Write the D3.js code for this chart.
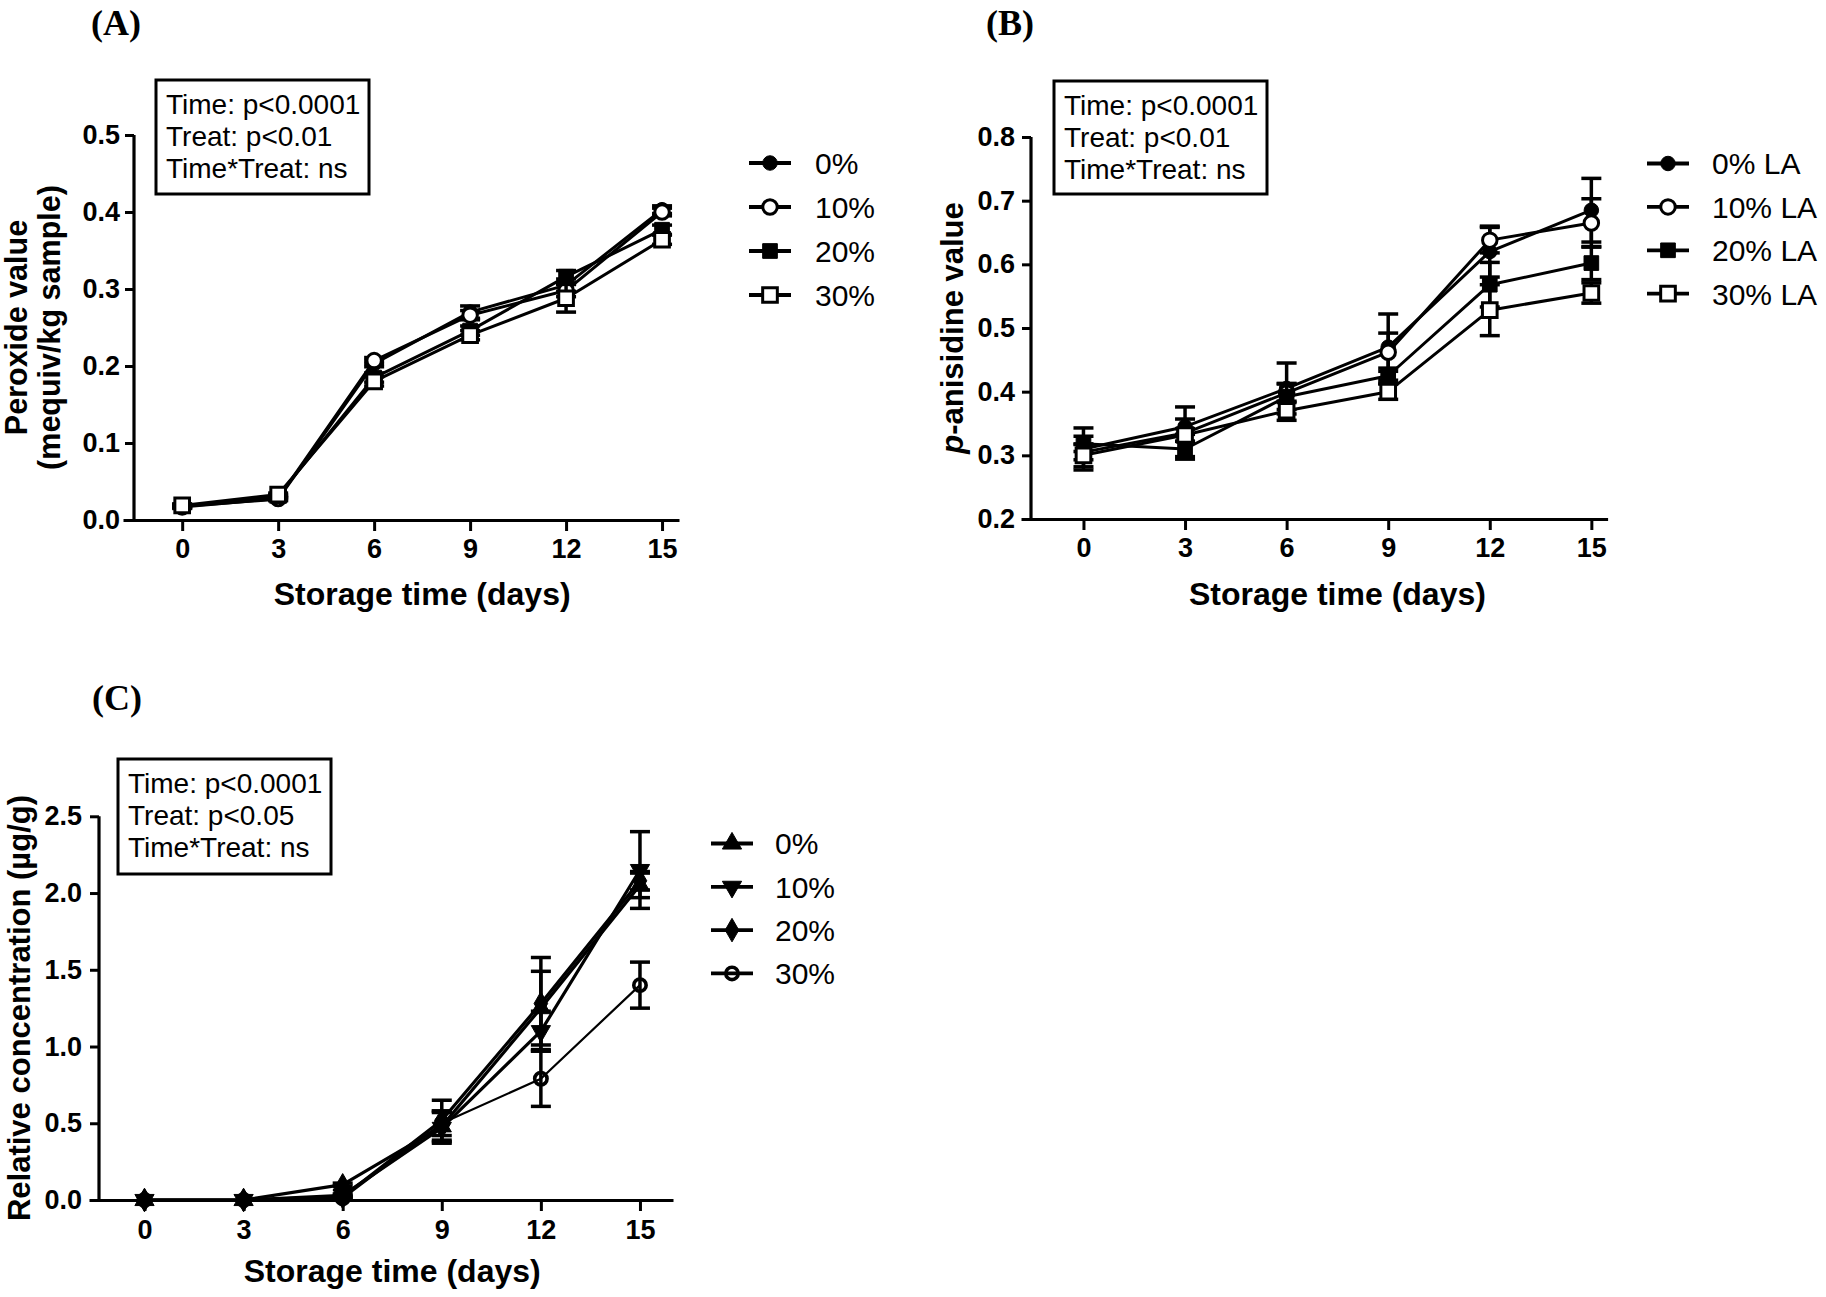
<!DOCTYPE html>
<html><head><meta charset="utf-8">
<script src="https://cdn.jsdelivr.net/npm/d3@7"></script>
<style>
html,body{margin:0;padding:0;background:#fff;}
svg{display:block;}
text{font-family:"Liberation Sans",Arial,sans-serif;fill:#000;}
text.tag{font-family:"Liberation Serif","Times New Roman",serif;}
</style></head>
<body>
<svg id="chart" width="1826" height="1297"></svg>
<script>
// ---------- DATA ----------
const days = [0, 3, 6, 9, 12, 15];

// (A) Peroxide value
const pvLabels = ["0%", "10%", "20%", "30%"];
const pv0  = [0.018, 0.027, 0.203, 0.270, 0.305, 0.403];
const pv10 = [0.017, 0.028, 0.207, 0.266, 0.298, 0.400];
const pv20 = [0.018, 0.031, 0.185, 0.246, 0.316, 0.377];
const pv30 = [0.019, 0.033, 0.180, 0.240, 0.288, 0.364];
const pvErr0  = [0.002, 0.002, 0.004, 0.008, 0.008, 0.005];
const pvErr10 = [0.002, 0.002, 0.004, 0.006, 0.008, 0.005];
const pvErr20 = [0.002, 0.002, 0.006, 0.006, 0.008, 0.006];
const pvErr30 = [0.002, 0.002, 0.006, 0.006, 0.018, 0.006];
const pvTicks = [0.0, 0.1, 0.2, 0.3, 0.4, 0.5];
const pvStats = ["Time: p<0.0001", "Treat: p<0.01", "Time*Treat: ns"];

// (B) p-anisidine value
const paLabels = ["0% LA", "10% LA", "20% LA", "30% LA"];
const pa0  = [0.310, 0.345, 0.405, 0.470, 0.620, 0.685];
const pa10 = [0.305, 0.335, 0.398, 0.462, 0.638, 0.665];
const pa20 = [0.318, 0.310, 0.392, 0.425, 0.568, 0.602];
const pa30 = [0.300, 0.332, 0.370, 0.400, 0.528, 0.555];
const paErr0  = [0.033, 0.012, 0.040, 0.052, 0.040, 0.050];
const paErr10 = [0.012, 0.041, 0.015, 0.030, 0.020, 0.038];
const paErr20 = [0.012, 0.012, 0.020, 0.012, 0.035, 0.026];
const paErr30 = [0.018, 0.010, 0.015, 0.012, 0.040, 0.016];
const paTicks = [0.2, 0.3, 0.4, 0.5, 0.6, 0.7, 0.8];
const paStats = ["Time: p<0.0001", "Treat: p<0.01", "Time*Treat: ns"];

// (C) Relative concentration
const rcLabels = ["0%", "10%", "20%", "30%"];
const rc0  = [0, 0, 0.10, 0.48, 1.25, 2.05];
const rc10 = [0, 0, 0.03, 0.47, 1.10, 2.15];
const rc20 = [0, 0, 0.02, 0.52, 1.28, 2.08];
const rc30 = [0, 0, 0.01, 0.50, 0.79, 1.40];
const rcErr0  = [0, 0, 0.01, 0.10, 0.24, 0.08];
const rcErr10 = [0, 0, 0.01, 0.10, 0.13, 0.25];
const rcErr20 = [0, 0, 0.01, 0.13, 0.30, 0.06];
const rcErr30 = [0, 0, 0.01, 0.08, 0.18, 0.15];
const rcTicks = [0.0, 0.5, 1.0, 1.5, 2.0, 2.5];
const rcStats = ["Time: p<0.0001", "Treat: p<0.05", "Time*Treat: ns"];

// ---------- DRAWING ----------
const svg = d3.select("#chart");

function markerPath(type) {
  const map = {
    circle: [d3.symbolCircle, 165],
    square: [d3.symbolSquare, 215],
    tri: [d3.symbolTriangle, 160],
    triDown: [d3.symbolTriangle, 160],
    diamond: [d3.symbolDiamond, 160],
    ring: [d3.symbolCircle, 120]
  };
  const m = map[type];
  return d3.symbol().type(m[0]).size(m[1])();
}

function drawMarker(g, type, fill, cx, cy) {
  const filled = fill === "black";
  g.append("path")
    .attr("d", markerPath(type))
    .attr("transform", `translate(${cx},${cy})` + (type === "triDown" ? " rotate(180)" : ""))
    .attr("fill", filled ? "#000" : (fill === "none" ? "none" : "#fff"))
    .attr("stroke", "#000")
    .attr("stroke-width", filled ? 1 : (type === "ring" ? 3.6 : 3));
}

function panel(cfg) {
  const g = svg.append("g");
  const x = d3.scaleLinear().domain(cfg.xDomain).range(cfg.xRange);
  const y = d3.scaleLinear().domain(cfg.yDomain).range(cfg.yRange);

  const xa = g.append("g").attr("transform", `translate(0,${cfg.yRange[0]})`)
    .call(d3.axisBottom(x).tickValues(days).tickSize(11).tickSizeOuter(0).tickPadding(cfg.xPad));
  const ya = g.append("g").attr("transform", `translate(${cfg.yAxisX},0)`)
    .call(d3.axisLeft(y).tickValues(cfg.yTicks).tickFormat(d3.format(".1f")).tickSize(9).tickSizeOuter(0).tickPadding(cfg.yPad));
  [xa, ya].forEach(a => {
    a.select(".domain").attr("stroke", "#000").attr("stroke-width", 3.2);
    a.selectAll(".tick line").attr("stroke", "#000").attr("stroke-width", 3);
    a.selectAll(".tick text").attr("font-weight", "bold").attr("font-size", 27).attr("fill", "#000");
  });
  ya.select(".domain").attr("d", `M0,${cfg.yRange[0]}V${y(cfg.yTicks[cfg.yTicks.length-1])}`);

  const order = cfg.reverse ? cfg.series.slice().reverse() : cfg.series;
  order.forEach(s => {
    const pts = days.map((d, i) => ({ d, v: s.values[i], e: s.err[i] }));
    g.append("path").datum(pts)
      .attr("fill", "none").attr("stroke", "#000").attr("stroke-width", s.lw || 3)
      .attr("stroke-linejoin", "round")
      .attr("d", d3.line().x(p => x(p.d)).y(p => y(p.v)));
    pts.forEach(p => {
      if (p.e > 0) {
        const eg = g.append("g").attr("stroke", "#000").attr("stroke-width", 3.5);
        eg.append("line").attr("x1", x(p.d)).attr("x2", x(p.d)).attr("y1", y(p.v - p.e)).attr("y2", y(p.v + p.e));
        [p.v - p.e, p.v + p.e].forEach(v => eg.append("line")
          .attr("x1", x(p.d) - 10).attr("x2", x(p.d) + 10).attr("y1", y(v)).attr("y2", y(v)));
      }
    });
    pts.forEach(p => drawMarker(g, s.marker, s.fill, x(p.d), y(p.v)));
  });

  const b = cfg.box;
  g.append("rect").attr("x", b.x).attr("y", b.y).attr("width", b.w).attr("height", b.h)
    .attr("fill", "#fff").attr("stroke", "#000").attr("stroke-width", 3);
  cfg.stats.forEach((t, i) => g.append("text").attr("x", b.x + 10).attr("y", b.y + 34 + i * 32)
    .attr("font-size", 28).text(t));

  const L = cfg.legend;
  cfg.series.forEach((s, i) => {
    const ly = L.y + i * L.dy;
    g.append("line").attr("x1", L.x).attr("x2", L.x + 42).attr("y1", ly).attr("y2", ly)
      .attr("stroke", "#000").attr("stroke-width", 3.8);
    drawMarker(g, s.marker, s.fill, L.x + 21, ly);
    g.append("text").attr("x", L.x + L.tx).attr("y", ly).attr("dy", "0.36em")
      .attr("font-size", 30).text(s.label);
  });

  g.append("text").attr("x", (x(0) + x(15)) / 2).attr("y", cfg.xTitleY)
    .attr("text-anchor", "middle").attr("font-weight", "bold").attr("font-size", 32)
    .text("Storage time (days)");

  g.append("text").attr("class", "tag").attr("x", cfg.tag.x).attr("y", cfg.tag.y).attr("text-anchor", "middle")
    .attr("font-weight", "bold").attr("font-size", 36).text(cfg.tag.t);

  return { g, x, y };
}

// (A)
const A = panel({
  xDomain: [-1.85, 15.53], xRange: [123, 679],
  yDomain: [0, 0.5], yRange: [520, 135], yAxisX: 134,
  yTicks: pvTicks, xPad: 8, yPad: 5,
  series: [
    { label: pvLabels[0], values: pv0,  err: pvErr0,  marker: "circle", fill: "black" },
    { label: pvLabels[1], values: pv10, err: pvErr10, marker: "circle", fill: "white" },
    { label: pvLabels[2], values: pv20, err: pvErr20, marker: "square", fill: "black" },
    { label: pvLabels[3], values: pv30, err: pvErr30, marker: "square", fill: "white" }
  ],
  stats: pvStats,
  box: { x: 156, y: 80, w: 213, h: 114 },
  legend: { x: 749, y: 163, dy: 44, tx: 66 },
  xTitleY: 605,
  tag: { x: 116, y: 35, t: "(A)" }
});
A.g.append("text").attr("transform", "translate(26.5,327.5) rotate(-90)")
  .attr("text-anchor", "middle").attr("font-weight", "bold").attr("font-size", 30.5).text("Peroxide value");
A.g.append("text").attr("transform", "translate(59.5,327.5) rotate(-90)")
  .attr("text-anchor", "middle").attr("font-weight", "bold").attr("font-size", 30.5).text("(mequiv/kg sample)");

// (B)
const B = panel({
  xDomain: [-1.845, 15.48], xRange: [1021, 1607.6],
  yDomain: [0.2, 0.8], yRange: [519, 137], yAxisX: 1031,
  yTicks: paTicks, xPad: 8, yPad: 7,
  series: [
    { label: paLabels[0], values: pa0,  err: paErr0,  marker: "circle", fill: "black" },
    { label: paLabels[1], values: pa10, err: paErr10, marker: "circle", fill: "white" },
    { label: paLabels[2], values: pa20, err: paErr20, marker: "square", fill: "black" },
    { label: paLabels[3], values: pa30, err: paErr30, marker: "square", fill: "white" }
  ],
  stats: paStats,
  box: { x: 1054, y: 81, w: 213, h: 113 },
  legend: { x: 1647, y: 163.5, dy: 43.4, tx: 65 },
  xTitleY: 605,
  tag: { x: 1010, y: 35, t: "(B)" }
});
const bt = B.g.append("text").attr("transform", "translate(963,328) rotate(-90)")
  .attr("text-anchor", "middle").attr("font-weight", "bold").attr("font-size", 31);
bt.append("tspan").attr("font-style", "italic").text("p");
bt.append("tspan").text("-anisidine value");

// (C)
const C = panel({
  xDomain: [-1.68, 16.0], xRange: [89, 673],
  yDomain: [0, 2.5], yRange: [1200, 816.3], yAxisX: 99,
  yTicks: rcTicks, xPad: 9, yPad: 8, reverse: true,
  series: [
    { label: rcLabels[0], values: rc0,  err: rcErr0,  marker: "tri",     fill: "black", lw: 3.2 },
    { label: rcLabels[1], values: rc10, err: rcErr10, marker: "triDown", fill: "black", lw: 3.2 },
    { label: rcLabels[2], values: rc20, err: rcErr20, marker: "diamond", fill: "black", lw: 3.2 },
    { label: rcLabels[3], values: rc30, err: rcErr30, marker: "ring",    fill: "none",  lw: 2.2 }
  ],
  stats: rcStats,
  box: { x: 118, y: 759, w: 213, h: 115 },
  legend: { x: 711, y: 843.5, dy: 43.3, tx: 64 },
  xTitleY: 1282,
  tag: { x: 117, y: 710, t: "(C)" }
});
C.g.append("text").attr("transform", "translate(30,1008) rotate(-90)")
  .attr("text-anchor", "middle").attr("font-weight", "bold").attr("font-size", 31)
  .text("Relative concentration (µg/g)");
</script>
</body></html>
